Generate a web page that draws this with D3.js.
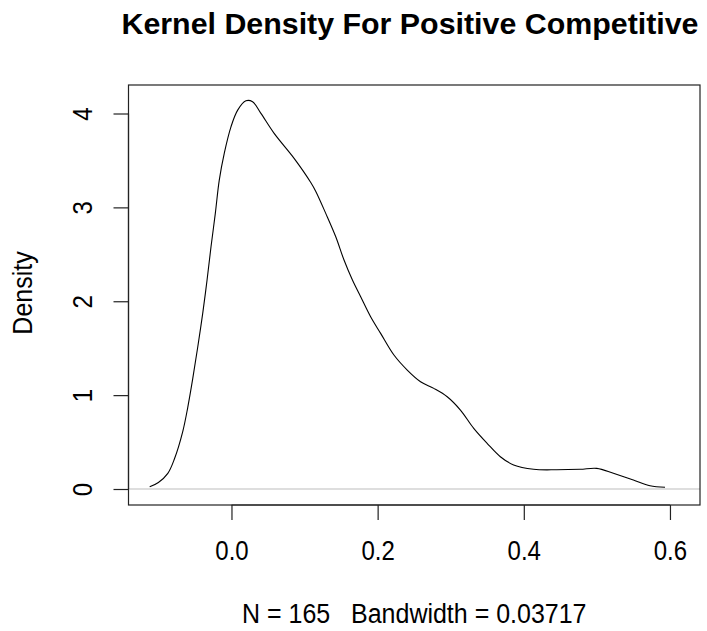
<!DOCTYPE html>
<html>
<head>
<meta charset="utf-8">
<script src="https://cdn.jsdelivr.net/npm/d3@7"></script>
<style>
  html, body { margin: 0; padding: 0; background: #fff; }
  svg text { font-family: "Liberation Sans", Arial, sans-serif; fill: #000; }
</style>
</head>
<body>
<div id="chart"></div>
<script>
// ---- data ----
const densityX = [-0.1119, -0.1000, -0.0871, -0.0781, -0.0666, -0.0598, -0.0530, -0.0461, -0.0393, -0.0334,
  -0.0280, -0.0221, -0.0167, -0.0098, -0.0007, 0.0085, 0.0198, 0.0289, 0.0403, 0.0584,
  0.0857, 0.1085, 0.1154, 0.1290, 0.1427, 0.1540, 0.1655, 0.1768, 0.1904, 0.2041,
  0.2223, 0.2405, 0.2587, 0.2769, 0.2952, 0.3133, 0.3315, 0.3498, 0.3679, 0.3861,
  0.4134, 0.4450, 0.4771, 0.4999, 0.5226, 0.5499, 0.5727, 0.5932];
const densityY = [0.024, 0.070, 0.167, 0.320, 0.615, 0.870, 1.175, 1.515, 1.874, 2.226,
  2.580, 2.936, 3.291, 3.578, 3.858, 4.036, 4.135, 4.125, 4.001, 3.788,
  3.522, 3.265, 3.170, 2.936, 2.687, 2.439, 2.226, 2.048, 1.835, 1.658,
  1.427, 1.267, 1.143, 1.072, 0.983, 0.841, 0.646, 0.487, 0.344, 0.256,
  0.210, 0.205, 0.210, 0.220, 0.167, 0.096, 0.035, 0.018];
const xTicks = [0.0, 0.2, 0.4, 0.6];
const xTickLabels = ["0.0", "0.2", "0.4", "0.6"];
const yTicks = [0, 1, 2, 3, 4];
const yTickLabels = ["0", "1", "2", "3", "4"];
const titleText = "Kernel Density For Positive Competitive";
const yLabelText = "Density";
const subText = "N = 165   Bandwidth = 0.03717";

// ---- layout ----
const W = 707, H = 631;
const plot = { left: 128.5, right: 700, top: 85, bottom: 505 };
const stretch = 1.13;

const svg = d3.select("#chart").append("svg")
  .attr("width", W).attr("height", H)
  .attr("viewBox", `0 0 ${W} ${H}`);

svg.append("rect").attr("width", W).attr("height", H).attr("fill", "#fff");

const x = d3.scaleLinear().domain([-0.1409, 0.6411]).range([plot.left, plot.right]);
const y = d3.scaleLinear().domain([-0.1704, 4.3036]).range([plot.bottom, plot.top]);

const pts = densityX.map((v, i) => [v, densityY[i]]);

// density curve
const line = d3.line().x(d => x(d[0])).y(d => y(d[1])).curve(d3.curveCatmullRom.alpha(0.5));
svg.append("path").datum(pts)
  .attr("d", line)
  .attr("fill", "none")
  .attr("stroke", "#000")
  .attr("stroke-width", 1.1);

// zero line (gray)
svg.append("line")
  .attr("x1", plot.left).attr("x2", plot.right)
  .attr("y1", y(0)).attr("y2", y(0))
  .attr("stroke", "#bebebe").attr("stroke-width", 1.2);

// box
svg.append("rect")
  .attr("x", plot.left).attr("y", plot.top)
  .attr("width", plot.right - plot.left).attr("height", plot.bottom - plot.top)
  .attr("fill", "none").attr("stroke", "#222").attr("stroke-width", 1.2);

// x axis
const xAxis = d3.axisBottom(x).tickValues(xTicks).tickSize(15)
  .tickFormat((d, i) => xTickLabels[i]);
const gx = svg.append("g").attr("transform", `translate(0,${plot.bottom})`).call(xAxis);
gx.select(".domain").attr("d", `M${x(xTicks[0])},0H${x(xTicks[xTicks.length - 1])}`)
  .attr("stroke", "#222").attr("stroke-width", 1.2);
gx.selectAll(".tick line").attr("stroke", "#222").attr("stroke-width", 1.2);
gx.selectAll(".tick text").remove();
gx.selectAll(".tick").append("g")
  .attr("transform", `translate(0,${560 - plot.bottom}) scale(1,${stretch})`)
  .append("text")
  .attr("text-anchor", "middle")
  .attr("font-size", 24)
  .text((d, i) => xTickLabels[i]);

// y axis
const yAxis = d3.axisLeft(y).tickValues(yTicks).tickSize(15)
  .tickFormat((d, i) => yTickLabels[i]);
const gy = svg.append("g").attr("transform", `translate(${plot.left},0)`).call(yAxis);
gy.select(".domain").attr("d", `M0,${y(yTicks[0])}V${y(yTicks[yTicks.length - 1])}`)
  .attr("stroke", "#222").attr("stroke-width", 1.2);
gy.selectAll(".tick line").attr("stroke", "#222").attr("stroke-width", 1.2);
gy.selectAll(".tick text").remove();
gy.selectAll(".tick").append("g")
  .attr("transform", `translate(${92 - plot.left},0) rotate(-90) scale(1,${stretch})`)
  .append("text")
  .attr("text-anchor", "middle")
  .attr("font-size", 24)
  .text((d, i) => yTickLabels[i]);

// title
svg.append("text")
  .attr("x", 121.5).attr("y", 33.5)
  .attr("font-size", 29)
  .attr("font-weight", "bold")
  .attr("textLength", 577)
  .attr("lengthAdjust", "spacingAndGlyphs")
  .text(titleText);

// y label
svg.append("g")
  .attr("transform", `translate(32,293) rotate(-90) scale(1,${stretch})`)
  .append("text")
  .attr("text-anchor", "middle")
  .attr("font-size", 25)
  .text(yLabelText);

// subtitle
svg.append("g")
  .attr("transform", `translate(${(plot.left + plot.right) / 2},623) scale(1,${stretch})`)
  .append("text")
  .attr("text-anchor", "middle")
  .attr("font-size", 25)
  .style("white-space", "pre")
  .text(subText);
</script>
</body>
</html>
